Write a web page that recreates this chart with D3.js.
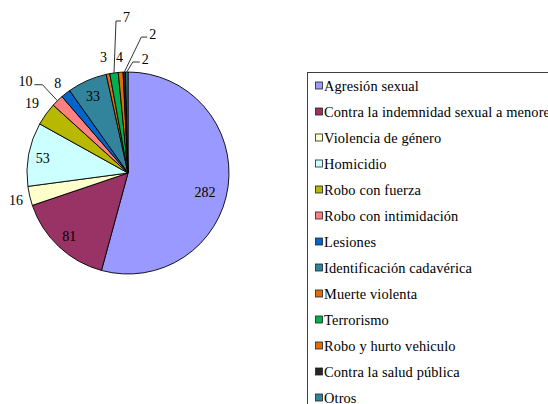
<!DOCTYPE html>
<html>
<head>
<meta charset="utf-8">
<script src="https://cdn.jsdelivr.net/npm/d3@7"></script>
<style>
    html, body { margin: 0; padding: 0; background: #fff; }
    svg { display: block; }
</style>
</head>
<body>
<svg id="chart" width="548" height="404"></svg>
<script>
// -- DATA --
const categories = [
    "Agresión sexual",
    "Contra la indemnidad sexual a menores",
    "Violencia de género",
    "Homicidio",
    "Robo con fuerza",
    "Robo con intimidación",
    "Lesiones",
    "Identificación cadavérica",
    "Muerte violenta",
    "Terrorismo",
    "Robo y hurto vehiculo",
    "Contra la salud pública",
    "Otros"
];
const values = [282, 81, 16, 53, 19, 10, 8, 33, 3, 7, 4, 2, 2];
const colors = ["#9999FF", "#993366", "#FFFFCC", "#CCFFFF", "#B8B800", "#FF8080", "#0066CC",
    "#31849B", "#E46C0A", "#00B050", "#E46C0A", "#262626", "#31849B"];

// -- LABEL LAYOUT (in / out / leader) --
const labelLayout = [
    { pos: "in", k: 0.84, nudge: [-7, 8] },
    { pos: "in", k: 0.85, nudge: [0, 1] },
    { pos: "out", k: 1.14, nudge: [0, 1] },
    { pos: "in", k: 0.86, nudge: [0, 2] },
    { pos: "out", k: 1.17, nudge: [0, -1] },
    { pos: "leader", elbow: [-15, -16], tail: -8 },
    { pos: "out", k: 1.13, nudge: [0, 0] },
    { pos: "in", k: 0.83, nudge: [-1, 0] },
    { pos: "out", k: 1.17, nudge: [-1, 0] },
    { pos: "leader", elbow: [2, -52], tail: 5 },
    { pos: "out", k: 1.15, nudge: [0, 0] },
    { pos: "leader", elbow: [17, -35], tail: 6 },
    { pos: "leader", elbow: [6, -10], tail: 7 }
];

const FONT = "Liberation Serif";
const svg = d3.select("#chart");
const cx = 128, cy = 173, radius = 101;

const pie = d3.pie().sort(null).value(d => d)(values);
const arc = d3.arc().innerRadius(0).outerRadius(radius);

const g = svg.append("g").attr("transform", `translate(${cx},${cy})`);

g.selectAll("path")
    .data(pie)
    .enter()
    .append("path")
    .attr("d", arc)
    .attr("fill", (d, i) => colors[i])
    .attr("stroke", "#000")
    .attr("stroke-width", 0.9)
    .attr("stroke-linejoin", "round");

// polar helper
function polar(a, r) {
    return [r * Math.sin(a), -r * Math.cos(a)];
}

// -- LABELS --
pie.forEach((d, i) => {
    const lay = labelLayout[i];
    const mid = (d.startAngle + d.endAngle) / 2;
    if (lay.pos === "leader") {
        const p0 = polar(mid, radius);
        const p1 = [p0[0] + lay.elbow[0], p0[1] + lay.elbow[1]];
        const p2 = [p1[0] + lay.tail, p1[1]];
        g.append("polyline")
            .attr("points", [p0, p1, p2].map(p => p.join(",")).join(" "))
            .attr("fill", "none")
            .attr("stroke", "#333")
            .attr("stroke-width", 1);
        g.append("text")
            .attr("x", p2[0] + (lay.tail < 0 ? -2 : 2))
            .attr("y", p2[1] - 3)
            .attr("text-anchor", lay.tail < 0 ? "end" : "start")
            .attr("dominant-baseline", "central")
            .style("font-family", FONT)
            .style("font-size", "14px")
            .text(values[i]);
    } else {
        const p = polar(mid, radius * lay.k);
        g.append("text")
            .attr("x", p[0] + lay.nudge[0])
            .attr("y", p[1] + lay.nudge[1])
            .attr("text-anchor", "middle")
            .attr("dominant-baseline", "central")
            .style("font-family", FONT)
            .style("font-size", "14px")
            .text(values[i]);
    }
});

// -- LEGEND --
const legend = svg.append("g").attr("transform", "translate(307.5,72.5)");
legend.append("rect")
    .attr("width", 300)
    .attr("height", 360)
    .attr("fill", "#fff")
    .attr("stroke", "#404040")
    .attr("stroke-width", 1);

const rows = legend.selectAll(".legend_row")
    .data(categories)
    .enter().append("g")
    .attr("class", "legend_row")
    .attr("transform", (d, i) => `translate(0,${13 + i * 26})`);

rows.append("rect")
    .attr("x", 8)
    .attr("y", -3.5)
    .attr("width", 7)
    .attr("height", 7)
    .attr("fill", (d, i) => colors[i])
    .attr("stroke", "#222")
    .attr("stroke-width", 0.8);

rows.append("text")
    .attr("x", 16.5)
    .attr("y", 0)
    .attr("dominant-baseline", "central")
    .style("font-family", FONT)
    .style("font-size", "14.4px")
    .style("letter-spacing", "0.12px")
    .text(d => d);
</script>
</body>
</html>
